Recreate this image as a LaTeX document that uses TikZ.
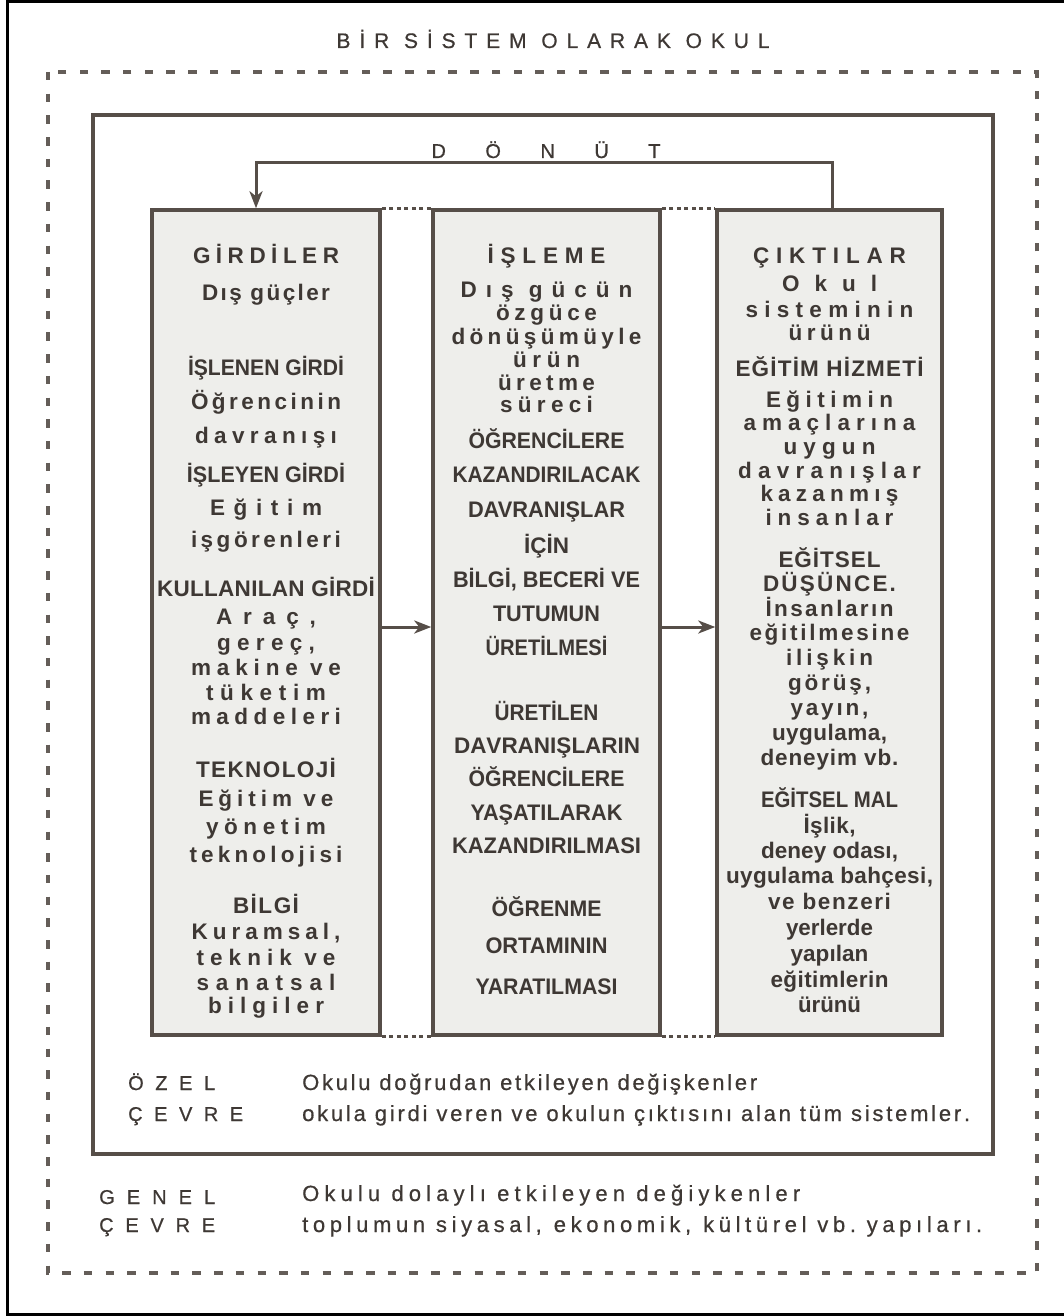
\documentclass[tikz,border=0pt]{standalone}
\usepackage{fontspec}
\usepackage{graphicx}
\setmainfont{Liberation Sans}
\newfontfamily\medfont[FakeBold=0.6]{Liberation Sans}
\usetikzlibrary{arrows.meta}
\definecolor{ink}{RGB}{62,56,52}
\definecolor{linec}{RGB}{86,78,72}
\definecolor{dashc}{RGB}{100,93,88}
\definecolor{boxfill}{RGB}{238,238,235}
% letter classes for spreading
\newcount\cc
\cc=33
\loop \XeTeXcharclass\cc=7 \advance\cc by 1 \ifnum\cc<127 \repeat
\cc=160
\loop \XeTeXcharclass\cc=7 \advance\cc by 1 \ifnum\cc<384 \repeat
\XeTeXinterchartoks 7 7 = {\hfil}
\newcommand\fitto[2]{%
  \setbox0=\hbox{#2}%
  \ifdim\wd0<#1pt\relax
    \hbox to #1pt{\XeTeXinterchartokenstate=1 \spaceskip=.28em plus 1fil\xspaceskip=\spaceskip #2}%
  \else
    \resizebox{#1pt}{\height}{#2}%
  \fi}
\tikzset{
  bx/.style={draw=linec, line width=3.5pt, fill=boxfill, minimum height=825pt, inner sep=0pt},
  bt/.style={anchor=base, inner sep=0pt, text=ink, font=\bfseries\fontsize{22.5}{26}\selectfont},
  ttl/.style={anchor=base, inner sep=0pt, text=ink, font=\medfont\fontsize{21}{26}\selectfont},
  lbl/.style={anchor=base west, inner sep=0pt, text=ink, font=\medfont\fontsize{20}{24}\selectfont},
  desc/.style={anchor=base west, inner sep=0pt, text=ink, font=\medfont\fontsize{22}{26}\selectfont},
  dotc/.style={linec, line width=3pt, dash pattern=on 4pt off 3.5pt},
  arr/.style={linec, line width=3pt, -{Stealth[length=17pt,width=13pt,inset=5pt]}},
}
\begin{document}
\begin{tikzpicture}[x=1pt,y=-1pt]
\useasboundingbox (0,0) rectangle (1064,1316);
\fill[white] (0,0) rectangle (1064,1316);
% outer frame
\draw[black, line width=3pt] (1068,2) -- (7,2) -- (7,1314) -- (1068,1314);
% general environment (dashed)
\draw[dashc, line width=3.5pt, dash pattern=on 8.5pt off 13.2pt] (48,72) rectangle (1037,1273);
% special environment (solid)
\draw[linec, line width=4pt] (93,115) rectangle (993,1154);
% title
\node[ttl] (title) at (553,48) {\fitto{433}{BİR SİSTEM OLARAK OKUL}};
\node[ttl, font=\medfont\fontsize{20}{24}\selectfont] (donut) at (546,158) {\fitto{229}{DÖNÜT}};
% boxes
\node[bx, minimum width=228pt] (b1) at (266,622.5) {};
\node[bx, minimum width=227pt] (b2) at (546.5,622.5) {};
\node[bx, minimum width=225pt] (b3) at (829.5,622.5) {};
% dotted joins
\draw[dotc] (b1.north east) -- (b2.north west);
\draw[dotc] (b2.north east) -- (b3.north west);
\draw[dotc] (b1.south east) -- (b2.south west);
\draw[dotc] (b2.south east) -- (b3.south west);
% arrows
\coordinate (ay) at (0,627);
\draw[arr] (b1.east |- ay) -- (b2.west |- ay);
\draw[arr] (b2.east |- ay) -- (b3.west |- ay);
% feedback
\coordinate (fbR) at (832,163);
\coordinate (fbL) at (256,163);
\draw[arr] (b3.north -| fbR) -- (fbR) -- (fbL) -- (b1.north -| fbL);
% box 1 text
\foreach \ly/\lwid/\ltxt [count=\i] in {
263/146/GİRDİLER, 300/128/Dış güçler, 375/156/İŞLENEN GİRDİ, 409/150/Öğrencinin,
443/142/davranışı, 482/158/İŞLEYEN GİRDİ, 515/112/Eğitim, 547/150/işgörenleri,
596/218/KULLANILAN GİRDİ, 624/100/{Araç,}, 650/98/{gereç,}, 675/150/makine ve,
700/120/tüketim, 724/150/maddeleri, 777/140/TEKNOLOJİ, 806/135/Eğitim ve,
834/120/yönetim, 862/153/teknolojisi, 913/66/BİLGİ, 939/149/{Kuramsal,},
965/139/teknik ve, 990/139/sanatsal, 1013/116/bilgiler}
{\node[bt] (ga\i) at (266,\ly) {\fitto{\lwid}{\ltxt}};}
% box 2 text
\foreach \ly/\lwid/\ltxt [count=\i] in {
263/118/İŞLEME, 297/172/Dış gücün, 320/101/özgüce, 344/190/dönüşümüyle,
367/67/ürün, 390/97/üretme, 412/93/süreci, 448/156/ÖĞRENCİLERE,
482/188/KAZANDIRILACAK, 517/157/DAVRANIŞLAR, 553/45/İÇİN, 587/187/{BİLGİ, BECERİ VE},
621/107/TUTUMUN, 655/122/ÜRETİLMESİ, 720/104/ÜRETİLEN, 753/185/DAVRANIŞLARIN,
786/156/ÖĞRENCİLERE, 820/152/YAŞATILARAK, 853/189/KAZANDIRILMASI, 916/110/ÖĞRENME,
953/122/ORTAMININ, 994/142/YARATILMASI}
{\node[bt] (gb\i) at (546.5,\ly) {\fitto{\lwid}{\ltxt}};}
% box 3 text
\foreach \ly/\lwid/\ltxt [count=\i] in {
263/153/ÇIKTILAR, 291/95/Okul, 317/168/sisteminin, 340/82/ürünü,
376/188/EĞİTİM HİZMETİ, 407/127/Eğitimin, 430/172/amaçlarına, 454/92/uygun,
478/183/davranışlar, 501/138/kazanmış, 525/128/insanlar, 567/102/EĞİTSEL,
591/133/DÜŞÜNCE., 616/128/İnsanların, 640/160/eğitilmesine, 665/87/ilişkin,
690/83/{görüş,}, 715/78/{yayın,}, 740/115/{uygulama,}, 765/138/deneyim vb.,
807/137/EĞİTSEL MAL, 833/52/{İşlik,}, 858/137/{deney odası,}, 883/207/{uygulama bahçesi,},
909/123/ve benzeri, 935/87/yerlerde, 961/78/yapılan, 987/118/eğitimlerin, 1012/63/ürünü}
{\node[bt] (gc\i) at (829.5,\ly) {\fitto{\lwid}{\ltxt}};}
% environment labels
\node[lbl] (ozel) at (128,1090) {\fitto{87}{ÖZEL}};
\node[lbl] (cevre1) at (128,1121) {\fitto{115}{ÇEVRE}};
\node[lbl] (genel) at (99,1204) {\fitto{116}{GENEL}};
\node[lbl] (cevre2) at (99,1232) {\fitto{116}{ÇEVRE}};
\node[desc] (d1) at (302,1090) {\fitto{455}{Okulu doğrudan etkileyen değişkenler}};
\node[desc] (d2) at (302,1121) {\fitto{668}{okula girdi veren ve okulun çıktısını alan tüm sistemler.}};
\node[desc] (d3) at (302,1201) {\fitto{498}{Okulu dolaylı etkileyen değiykenler}};
\node[desc] (d4) at (302,1232) {\fitto{680}{toplumun siyasal, ekonomik, kültürel vb. yapıları.}};
\end{tikzpicture}
\end{document}
